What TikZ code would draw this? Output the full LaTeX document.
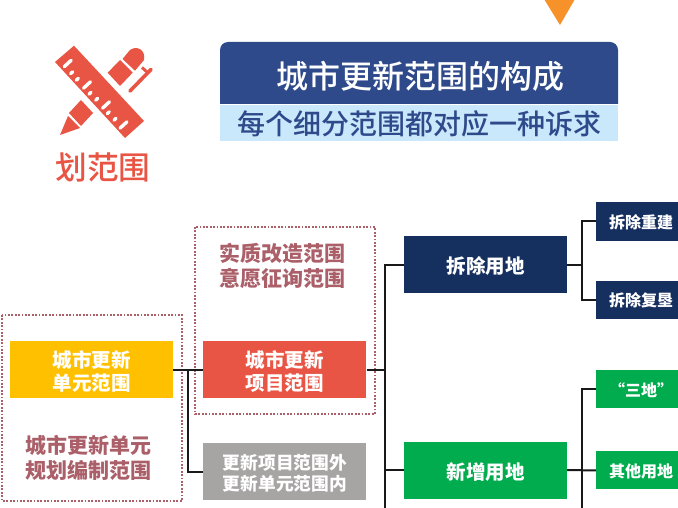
\documentclass[tikz,border=0pt]{standalone}
\usepackage{fontspec}
\setmainfont{Noto Sans CJK SC}
\newfontfamily\heavycjk[UprightFont={* Medium}]{Noto Sans CJK SC}
\definecolor{titleblue}{RGB}{46,74,139}
\definecolor{lightblue}{RGB}{201,232,251}
\definecolor{iconred}{RGB}{233,85,68}
\definecolor{unityellow}{RGB}{255,192,0}
\definecolor{spacegray}{RGB}{167,164,164}
\definecolor{navy}{RGB}{21,47,95}
\definecolor{leafgreen}{RGB}{0,172,78}
\definecolor{dotred}{RGB}{170,95,105}
\definecolor{arrowyellow}{RGB}{247,146,43}
\usetikzlibrary{calc}
\usetikzlibrary{positioning}
\newcommand{\lift}[1]{\rule{0pt}{#1em}}
\tikzset{
  mainbox/.style={minimum width=163pt, minimum height=57pt, inner sep=0pt, align=center, text=white,
    font=\fontsize{19.5}{23}\selectfont\bfseries},
  leafbox/.style={minimum width=90pt, minimum height=38pt, inner sep=0pt, align=center, text=white,
    font=\fontsize{16}{20}\selectfont\bfseries},
  dotbox/.style={draw=dotred, line width=2pt, dash pattern=on 1.8pt off 1.6pt},
  dottext/.style={align=center, text=dotred,
    font=\fontsize{21}{24.5}\selectfont\bfseries},
  link/.style={line width=2pt, draw=black!90},
  tick/.style={white, line width=3.4pt, line cap=round}
}

\begin{document}
\begin{tikzpicture}[x=1pt, y=-1pt]
    \clip (0,0) rectangle (678,508);
    \fill[white] (0,0) rectangle (678,508);

    \fill[arrowyellow] (544,-1) -- (575,-1) -- (560,25) -- cycle;

    \fill[iconred] (74,45.7) -- (55,62) -- (125,138) -- (144,121) -- cycle;
    \foreach \tx/\ty in {67.7/63.5, 87/85, 106/105, 123.5/125}
      \draw[tick] (\tx,\ty) ++(-3.4,3.1) -- ++(6.8,-6.2);
    \foreach \tx/\ty in {71.7/72.7, 77.3/79.3, 90/93.3, 96.7/99.3, 108.3/112.7, 115/119.3}
      \draw[tick] (\tx,\ty) ++(-1,0.9) -- ++(2,-1.8);
    \fill[iconred] (60,135) -- (68,116) -- (80,128) -- cycle;
    \fill[iconred] (81,100) -- (93,113) -- (81,126) -- (69,113) -- cycle;
    \fill[iconred] (120,60) -- (132.7,72.7) -- (120,86) -- (107.7,72.7) -- cycle;
    \fill[iconred] (122.5,59) -- (135,70.7) -- (144,60) .. controls (146,50) and (137,45) .. (130,50) -- cycle;
    \draw[iconred, line width=3.6pt, line cap=round] (130,91) -- (151,69.5);
    \draw[iconred, line width=3pt] (142,67.5) -- (147,72);

    \node[font=\fontsize{31.7}{36}\selectfont\heavycjk, text=iconred] (icontext) at (103,167) {划范围};

    \fill[titleblue] (220,104) [rounded corners=8pt] -- (220,42) -- (618,42) [sharp corners] -- (618,104) -- cycle;
    \fill[lightblue] (220,105) rectangle (618,141);
    \node[text=white, font=\fontsize{32}{36}\selectfont\heavycjk] (title) at (420,76.5) {城市更新范围的构成};
    \node[text=titleblue, font=\fontsize{28}{30}\selectfont\heavycjk] (subtitle) at (419,123.5) {每个细分范围都对应一种诉求};

    \draw[dotbox] (2,315) rectangle (182,501);
    \draw[dotbox] (195,227) rectangle (375,414);
    \node[dottext] (unitnote) at (88.5,457) {\lift{0.95}城市更新单元\\规划编制范围};
    \node[dottext] (projnote) at (282,265) {\lift{0.95}实质改造范围\\意愿征询范围};

    \node[mainbox, fill=unityellow] (unit) at (91.5,369.5) {\lift{1.07}城市更新\\单元范围};
    \node[mainbox, fill=iconred, right=30pt of unit] (project) {\lift{1.07}城市更新\\项目范围};
    \node[mainbox, fill=spacegray, below=45pt of project, font=\fontsize{17.7}{21}\selectfont\bfseries] (outside) {\lift{1}更新项目范围外\\更新单元范围内};

    \node[mainbox, fill=navy] (demolish) at (485.5,264.5) {\lift{1.07}拆除用地};
    \node[mainbox, fill=leafgreen] (added) at (485.5,470) {\lift{1.07}新增用地};

    \node[leafbox, fill=navy] (rebuild) at (641,221.5) {\lift{0.97}拆除重建};
    \node[leafbox, fill=navy, below=40pt of rebuild] (reclaim) {\lift{0.97}拆除复垦};
    \node[leafbox, fill=leafgreen] (three) at (641,389) {\lift{0.97}“三地”};
    \node[leafbox, fill=leafgreen, below=43pt of three] (other) {\lift{0.97}其他用地};

    \coordinate (branch) at ($(unit.east)!0.5!(project.west)$);
    \coordinate (trunk) at (385,515);
    \coordinate (twig) at (582,515);

    \draw[link] (unit) -- (project);
    \draw[link] (branch) |- (outside);
    \draw[link] (project) -- (project -| trunk);
    \draw[link] (demolish) -| (trunk);
    \draw[link] (added) -- (added -| trunk);

    \draw[link] (demolish.east) -- (demolish -| twig);
    \draw[link] (rebuild) -| (reclaim -| twig) -- (reclaim);
    \draw[link] (three) -| (twig);
    \draw[link] (added) -- (other);
\end{tikzpicture}
\end{document}
